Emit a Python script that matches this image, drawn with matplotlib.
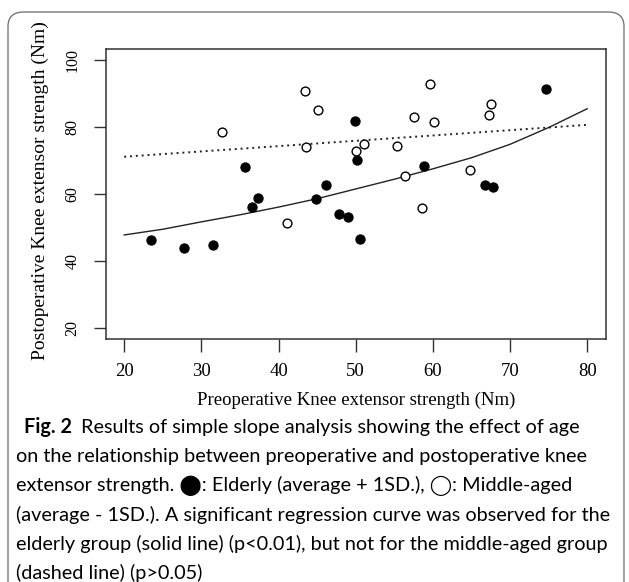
import matplotlib
matplotlib.use('Agg')
import matplotlib.pyplot as plt
from matplotlib.patches import FancyBboxPatch

# elderly group (filled circles)
old_x = [23.5, 27.8, 31.5, 35.6, 36.5, 37.4, 44.8, 46.2, 47.9, 49.0, 49.9, 50.2, 50.5, 58.9, 66.8, 67.8, 74.7]
old_y = [46.3, 44.0, 44.7, 67.9, 56.1, 58.7, 58.4, 62.7, 53.9, 53.2, 81.7, 70.1, 46.6, 68.2, 62.7, 62.2, 91.2]

# middle-aged group (open circles)
mid_x = [32.7, 41.1, 43.4, 43.5, 45.1, 50.0, 51.1, 55.3, 56.4, 57.5, 58.6, 59.6, 60.2, 64.8, 67.3, 67.5]
mid_y = [78.4, 51.4, 90.8, 74.1, 85.1, 72.9, 74.8, 74.4, 65.3, 82.9, 55.8, 92.7, 81.4, 67.2, 83.5, 86.9]

# regression curves
solid_x = [20, 25, 30, 35, 40, 45, 50, 55, 60, 65, 70, 75, 80]
solid_y = [47.8, 49.5, 51.7, 53.8, 56.1, 58.6, 61.5, 64.4, 67.5, 70.8, 74.8, 79.8, 85.4]
dot_x = [20, 80]
dot_y = [71.1, 80.6]

xticks = [20, 30, 40, 50, 60, 70, 80]
yticks = [20, 40, 60, 80, 100]

caption = [
    'on the relationship between preoperative and postoperative knee',
    'extensor strength. \u2b24: Elderly (average + 1SD.), \u25ef: Middle-aged',
    '(average - 1SD.). A significant regression curve was observed for the',
    'elderly group (solid line) (p<0.01), but not for the middle-aged group',
    '(dashed line) (p>0.05)',
]

W, H = 629, 582
fig = plt.figure(figsize=(W / 100, H / 100), dpi=100)

# frame around figure + caption
box = FancyBboxPatch((8 / W, -20 / H), 616 / W, (H - 12 + 20) / H,
                     boxstyle='round,pad=0,rounding_size=0.025',
                     transform=fig.transFigure, fc='none', ec='#777777', lw=1.0)
fig.patches.append(box)

ax = fig.add_axes([105.7 / W, 1 - 339 / H, 500 / W, 290 / H])
serif = 'Liberation Serif'

ax.plot(solid_x, solid_y, color='#222222', lw=1.0)
ax.plot(dot_x, dot_y, color='#222222', lw=1.4, linestyle=(0, (1, 2)))
ax.scatter(old_x, old_y, s=44, c='black', edgecolors='black', linewidths=0.8, zorder=3)
ax.scatter(mid_x, mid_y, s=40, facecolors='white', edgecolors='black', linewidths=1.0, zorder=3)

ax.set_xlim(17.6, 82.4)
ax.set_ylim(16.8, 103.2)
ax.set_xticks(xticks)
ax.set_yticks(yticks)
ax.set_xticklabels([str(v) for v in xticks], fontfamily=serif, fontsize=13.5)
ax.set_yticklabels([str(v) for v in yticks], fontfamily=serif, fontsize=11.5,
                   rotation=90, va='center')
ax.tick_params(length=9, width=1, color='#333333')
ax.tick_params(axis='x', pad=8)
ax.tick_params(axis='y', pad=9)
for s in ax.spines.values():
    s.set_color('#333333')
    s.set_linewidth(1.1)

fig.text(355.7 / W, 1 - 400 / H, 'Preoperative Knee extensor strength (Nm)',
         fontfamily=serif, fontsize=13.5, ha='center', va='center')
fig.text(40 / W, 1 - 191 / H, 'Postoperative Knee extensor strength (Nm)',
         fontfamily=serif, fontsize=14, ha='center', va='center', rotation=90)

# caption, font size fitted so the widest line spans the box like the reference
sans = ['Lato', 'DejaVu Sans']
probe = fig.text(0, 0, caption[3], fontfamily=sans, fontsize=10)
fig.canvas.draw()
wpx = probe.get_window_extent().width
probe.remove()
fs = 10 * 594 / wpx

y0 = 427
step = 29.2
head = fig.text(24 / W, 1 - y0 / H, 'Fig. 2', fontfamily=sans, fontsize=fs,
                fontweight='bold', va='center')
fig.canvas.draw()
hx = head.get_window_extent().x1
fig.text((hx + 9) / W, 1 - y0 / H, 'Results of simple slope analysis showing the effect of age',
         fontfamily=sans, fontsize=fs, va='center')
for i, line in enumerate(caption):
    fig.text(16 / W, 1 - (y0 + step * (i + 1)) / H, line, fontfamily=sans,
             fontsize=fs, va='center')

fig.savefig('out.png', dpi=100)
